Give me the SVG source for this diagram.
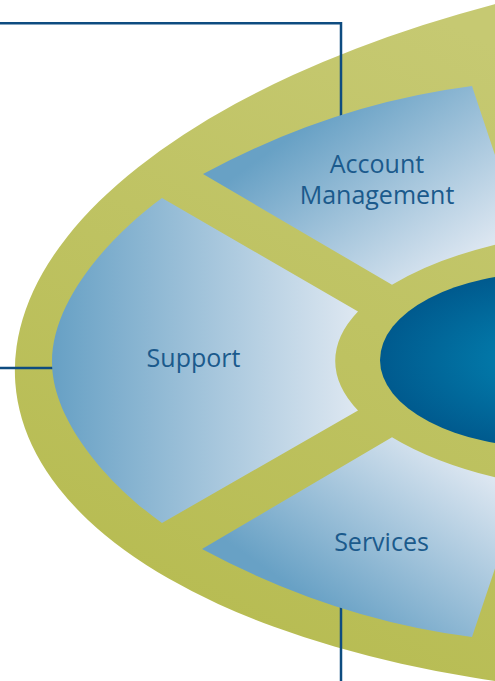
<svg xmlns="http://www.w3.org/2000/svg" width="495" height="681" viewBox="0 0 495 681">
  <defs>
    <linearGradient id="oliveFill" gradientUnits="userSpaceOnUse" x1="480" y1="0" x2="150" y2="560">
      <stop offset="0" stop-color="#C6C972"/>
      <stop offset="1" stop-color="#B7BC52"/>
    </linearGradient>
    <linearGradient id="supportFill" gradientUnits="userSpaceOnUse" x1="55" y1="0" x2="355" y2="0">
      <stop offset="0" stop-color="#68A1C5"/>
      <stop offset="1" stop-color="#DDE7F1"/>
    </linearGradient>
    <linearGradient id="accountFill" gradientUnits="userSpaceOnUse" x1="300" y1="130" x2="420" y2="300">
      <stop offset="0" stop-color="#68A1C5"/>
      <stop offset="1" stop-color="#DFE8F2"/>
    </linearGradient>
    <linearGradient id="servicesFill" gradientUnits="userSpaceOnUse" x1="300" y1="593" x2="420" y2="423">
      <stop offset="0" stop-color="#68A1C5"/>
      <stop offset="1" stop-color="#DFE8F2"/>
    </linearGradient>
    <radialGradient id="coreFill" cx="0.5" cy="0.5" r="0.5">
      <stop offset="0" stop-color="#0384B3"/>
      <stop offset="1" stop-color="#005A8E"/>
    </radialGradient>
  </defs>
  <style>
    .label { font-family: "Open Sans", "Liberation Sans", sans-serif; font-size: 25px; fill: #1B5A8C; text-anchor: middle; }
    .link { fill: none; stroke: #0E4C80; stroke-width: 2.5; }
  </style>

  <!-- olive base oval, tilted slightly; its bands show between the segments -->
  <g id="frame">
    <ellipse cx="832.5" cy="322.7" rx="819.4" ry="370.8" transform="rotate(-4.22 832.5 322.7)" fill="url(#oliveFill)"/>
  </g>

  <!-- connector lines -->
  <g id="connectors">
    <path class="link" d="M 0 23.3 H 341 V 117"/>
    <path class="link" d="M 0 368 H 54"/>
    <path class="link" d="M 341 605 V 681"/>
  </g>

  <g id="support">
    <path fill="url(#supportFill)" d="M 162 198 L 358 311.5 A 332 136 0 0 0 358 410.5 L 162 523 C 110 486 52 422 52 362 C 52 300 110 236 162 198 Z"/>
    <text class="label" x="193.5" y="367">Support</text>
  </g>

  <g id="account-management">
    <path fill="url(#accountFill)" d="M 203 174 Q 332.5 104 472 86 L 512 206 L 512 240.7 A 332 136 0 0 0 392 284.8 Z"/>
    <text class="label" x="377" y="173">Account</text>
    <text class="label" x="377" y="204">Management</text>
  </g>

  <g id="services">
    <path fill="url(#servicesFill)" d="M 202 549 L 392 437.2 A 332 136 0 0 0 512 481.3 L 512 518 L 472 637 Q 332.5 619 202 549 Z"/>
    <text class="label" x="381.5" y="551">Services</text>
  </g>

  <g id="core">
    <ellipse cx="548" cy="360" rx="168" ry="87.5" fill="url(#coreFill)"/>
  </g>
</svg>
